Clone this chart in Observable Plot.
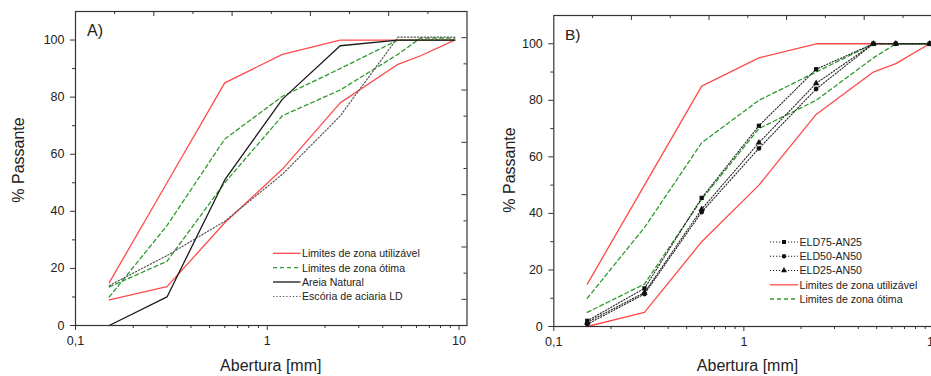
<!DOCTYPE html>
<html><head><meta charset="utf-8">
<script src="https://cdn.jsdelivr.net/npm/d3@7"></script>
<script src="https://cdn.jsdelivr.net/npm/@observablehq/plot@0.6"></script>
<style>
body{margin:0;background:#fff;}
#wrap{position:relative;width:931px;height:376px;overflow:hidden;background:#fff;font-family:"Liberation Sans",Arial,sans-serif;}
#wrap svg{position:absolute;top:0;max-width:none;}
</style></head><body><div id="wrap"></div>
<script>
// ---------- data ----------
const sieves = [0.15, 0.3, 0.6, 1.2, 2.4, 4.8, 6.3, 9.5];
const xTicks = [0.1, 1, 10];
const xMinor = [0.2, 0.3, 0.4, 0.5, 0.6, 0.7, 0.8, 0.9, 2, 3, 4, 5, 6, 7, 8, 9];
const yTicks = [0, 20, 40, 60, 80, 100];
const yMinor = [10, 30, 50, 70, 90];

// Panel A
const redUpperA   = [15, 50, 85, 95, 100, 100, 100, 100];
const redLowerA   = [9, 13.6, 36, 54.8, 78, 91.5, 94.5, 100];
const greenUpperA = [10, 35, 65.3, 80.3, 90, 100, 100, 100];
const greenLowerA = [13.5, 22.5, 50, 73.5, 82.5, 95, 100.7, 100.7];
const areiaA      = [0, 10, 51, 79.3, 98, 100, 100, 100];
const escoriaA    = [14, 24.5, 36.5, 53, 73.4, 101, 101, 101];

// Panel B
const redUpperB   = [15, 50, 85, 95, 100, 100, 100, 100];
const redLowerB   = [0, 5, 30, 50, 75, 90, 93, 100];
const greenUpperB = [10, 35, 65, 80, 90, 100, 100, 100];
const greenLowerB = [5, 15, 45, 70, 80, 95, 100, 100];
const eld75       = [2, 13.5, 45.5, 71, 91, 100, 100, 100];
const eld50       = [0.8, 11.5, 40.5, 63, 84, 100, 100, 100];
const eld25       = [1.5, 12, 41.5, 65, 86, 100, 100, 100];

const legendA = ["Limites de zona utilizável", "Limites de zona ótima", "Areia Natural", "Escória de aciaria LD"];
const legendB = ["ELD75-AN25", "ELD50-AN50", "ELD25-AN50", "Limites de zona utilizável", "Limites de zona ótima"];

// ---------- styles ----------
const RED = "#ff4a4a", GREEN = "#2f9a2f", BLACK = "#1a1a1a", GREY = "#555";
const FONT = "'Liberation Sans', Arial, sans-serif";
const styles = {
  red:   {stroke: RED, strokeWidth: 1.3},
  green: {stroke: GREEN, strokeWidth: 1.3, strokeDasharray: "4,3"},
  black: {stroke: BLACK, strokeWidth: 1.3},
  grey:  {stroke: GREY, strokeWidth: 1.2, strokeDasharray: "1.3,2"},
  eld:   {stroke: "#222", strokeWidth: 1.1, strokeDasharray: "1.2,1.8"}
};

const rows = (vals) => sieves.map((x, i) => ({x, y: vals[i]}));
const fmt = d => String(d).replace(".", ",");

function panel({width, height, mLeft, mRight, mTop, mBottom, lines, dots}) {
  const innerW = width - mLeft - mRight, innerH = height - mTop - mBottom;
  const lo = Math.log10(0.1), hi = Math.log10(11);
  const topMajor = [], topMinor = [];
  d3.range(1, 10).forEach(i => (i % 2 === 0 ? topMajor : topMinor).push(10 ** (lo + i / 10 * (hi - lo))));
  const rightMajor = [], rightMinor = [];
  d3.range(1, 12).forEach(i => (i % 2 === 1 ? rightMajor : rightMinor).push(i * 110 / 12));
  const marks = [
    Plot.axisX({ticks: xTicks, tickSize: 5, tickPadding: 6, tickFormat: fmt, label: null, stroke: "#333"}),
    Plot.axisX({ticks: xMinor, tickSize: 3, tickFormat: () => "", label: null, stroke: "#333"}),
    Plot.axisY({ticks: yTicks, tickSize: 5, tickPadding: 6, label: null, stroke: "#333"}),
    Plot.axisY({ticks: yMinor, tickSize: 3, tickFormat: () => "", label: null, stroke: "#333"}),
    Plot.ruleX(topMajor, {insetBottom: innerH - 5, stroke: "#333"}),
    Plot.ruleX(topMinor, {insetBottom: innerH - 3, stroke: "#333"}),
    Plot.ruleY(rightMajor, {insetLeft: innerW - 5, stroke: "#333"}),
    Plot.ruleY(rightMinor, {insetLeft: innerW - 3, stroke: "#333"}),
    ...lines.map(([vals, st]) => Plot.line(rows(vals), {x: "x", y: "y", ...styles[st]})),
    ...dots.map(([vals, sym]) => Plot.dot(rows(vals), {x: "x", y: "y", symbol: sym, r: 2.4, fill: "#111", stroke: "none"})),
    Plot.frame({stroke: "#333", strokeWidth: 1.2})
  ];
  return Plot.plot({
    width, height,
    marginLeft: mLeft, marginRight: mRight, marginTop: mTop, marginBottom: mBottom,
    x: {type: "log", domain: [0.1, 11], axis: null, label: null},
    y: {domain: [0, 110], axis: null, label: null},
    style: {fontFamily: FONT, fontSize: "12.5px", color: "#222", background: "white", maxWidth: "none", overflow: "visible"},
    marks
  });
}

const wrap = document.getElementById("wrap");

const svgA = panel({
  width: 470, height: 376, mLeft: 75, mRight: 3.5, mTop: 11, mBottom: 51,
  lines: [[redUpperA, "red"], [redLowerA, "red"], [greenUpperA, "green"], [greenLowerA, "green"],
          [areiaA, "black"], [escoriaA, "grey"]],
  dots: []
});
svgA.style.left = "0px";
wrap.appendChild(svgA);

const svgB = panel({
  width: 480, height: 376, mLeft: 83.3, mRight: 8.7, mTop: 15, mBottom: 50,
  lines: [[redUpperB, "red"], [redLowerB, "red"], [greenUpperB, "green"], [greenLowerB, "green"],
          [eld75, "eld"], [eld50, "eld"], [eld25, "eld"]],
  dots: [[eld75, "square"], [eld50, "circle"], [eld25, "triangle"]]
});
svgB.style.left = "470px";
wrap.appendChild(svgB);

// ---------- overlay: titles, panel letters, legends ----------
const ov = d3.select(wrap).append("svg")
  .attr("width", 931).attr("height", 376)
  .style("left", "0px").style("pointer-events", "none")
  .style("font-family", FONT).style("fill", "#222");

ov.append("text").attr("x", 87).attr("y", 36).attr("font-size", 16).text("A)");
ov.append("text").attr("x", 565).attr("y", 39.5).attr("font-size", 15.5).text("B)");

[[270.8, "Abertura [mm]"], [747.5, "Abertura [mm]"]].forEach(([x, t]) =>
  ov.append("text").attr("x", x).attr("y", 371).attr("font-size", 16).attr("text-anchor", "middle").text(t));
[[18, 160], [509, 170]].forEach(([x, y]) =>
  ov.append("text").attr("transform", `translate(${x + 6},${y}) rotate(-90)`)
    .attr("font-size", 16).attr("text-anchor", "middle").text("% Passante"));

function legend(items, x0, x1, tx, ys) {
  items.forEach((it, i) => {
    const y = ys[i];
    const st = styles[it.style];
    ov.append("line").attr("x1", x0).attr("x2", x1).attr("y1", y).attr("y2", y)
      .attr("stroke", st.stroke).attr("stroke-width", st.strokeWidth)
      .attr("stroke-dasharray", st.strokeDasharray || null);
    if (it.symbol) {
      ov.append("path").attr("transform", `translate(${(x0 + x1) / 2},${y})`)
        .attr("d", d3.symbol(it.symbol, 16)()).attr("fill", "#111");
    }
    ov.append("text").attr("x", tx).attr("y", y + 3.8).attr("font-size", 10.6).text(it.label);
  });
}
legend([
  {label: legendA[0], style: "red"},
  {label: legendA[1], style: "green"},
  {label: legendA[2], style: "black"},
  {label: legendA[3], style: "grey"}
], 273, 300.5, 302, [253.3, 267.7, 282, 296.5]);

legend([
  {label: legendB[0], style: "eld", symbol: d3.symbolSquare},
  {label: legendB[1], style: "eld", symbol: d3.symbolCircle},
  {label: legendB[2], style: "eld", symbol: d3.symbolTriangle},
  {label: legendB[3], style: "red"},
  {label: legendB[4], style: "green"}
], 770, 798, 799.5, [242, 256.3, 270.5, 284.8, 299]);
</script></body></html>
